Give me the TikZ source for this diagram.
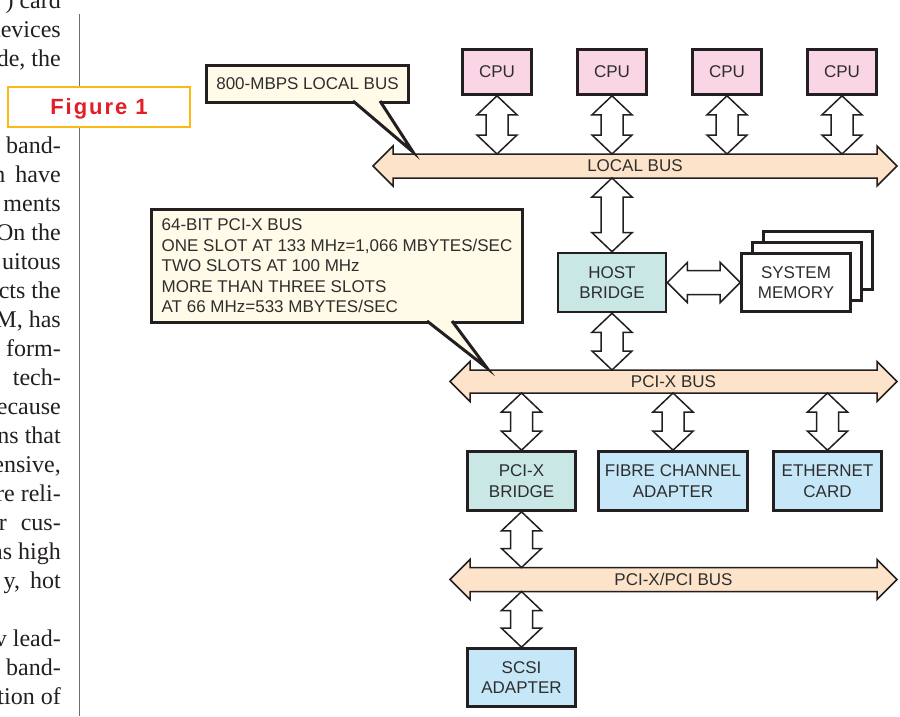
\documentclass[tikz,border=0pt]{standalone}
\usepackage{fontspec}
\usetikzlibrary{calc,backgrounds}
\newfontfamily\diagfont{Liberation Sans}
\newfontfamily\bodyfont{Liberation Serif}
\newfontfamily\figfont[LetterSpace=9]{Liberation Sans}

\definecolor{inkblack}{HTML}{231F20}
\definecolor{textgray}{HTML}{2E2E2E}
\definecolor{cpupink}{HTML}{F9D5E6}
\definecolor{busorange}{HTML}{FDE3C9}
\definecolor{bridgeteal}{HTML}{C9E8E5}
\definecolor{adapterblue}{HTML}{C6E7F7}
\definecolor{notecream}{HTML}{FFFBE8}
\definecolor{figorange}{HTML}{FDB913}
\definecolor{figred}{HTML}{E31E24}
\definecolor{rulegray}{HTML}{6D6E71}

\tikzset{
  box/.style={draw=inkblack, line width=2.6pt, text=textgray, align=center,
    font=\diagfont\fontsize{17}{20.5}\selectfont, inner sep=2pt},
  cpubox/.style={box, fill=cpupink, minimum width=69pt, minimum height=45pt},
  bridgebox/.style={box, fill=bridgeteal, minimum width=108pt, minimum height=59pt},
  adapterbox/.style={box, fill=adapterblue, minimum width=108pt, minimum height=59pt},
  membox/.style={box, fill=white, minimum width=109pt, minimum height=58pt},
  bus/.style={inner sep=0pt, outer sep=0pt, minimum height=24pt, text=textgray,
    font=\diagfont\fontsize{17}{20.5}\selectfont},
  busline/.style={draw=inkblack, line width=1.5pt, fill=busorange, line join=miter},
  linkarrow/.style={draw=inkblack, line width=1.5pt, fill=white, line join=miter},
  notebox/.style={draw=inkblack, line width=3pt, fill=notecream, text=textgray, align=left,
    font=\diagfont\fontsize{17}{20.5}\selectfont, inner sep=0pt},
  noteline/.style={draw=inkblack, line width=3pt, line join=miter},
  bodyline/.style={anchor=base east, inner sep=0pt, text=inkblack,
    font=\bodyfont\fontsize{24}{29}\selectfont},
  figbox/.style={draw=figorange, line width=2.2pt, fill=white, text=figred,
    minimum width=182pt, minimum height=40pt, text height=15.8pt, text depth=0pt,
    font=\figfont\bfseries\fontsize{22}{26}\selectfont}
}

% bus drawn behind its label
\newcommand{\busshape}[1]{%
  \begin{pgfonlayer}{background}
  \draw[busline] (#1.west) -- ([shift={(20pt,20pt)}]#1.west) -- ([xshift=20pt]#1.north west)
    -- ([xshift=-20pt]#1.north east) -- ([shift={(-20pt,20pt)}]#1.east) -- (#1.east)
    -- ([shift={(-20pt,-20pt)}]#1.east) -- ([xshift=-20pt]#1.south east)
    -- ([xshift=20pt]#1.south west) -- ([shift={(20pt,-20pt)}]#1.west) -- cycle;
  \end{pgfonlayer}}
% vertical two-way link: top point, bottom point
\newcommand{\vlink}[2]{%
  \draw[linkarrow] let \p1=(#1), \p2=(#2) in
    (\x1,\y1) -- (\x1+20pt,\y1-19pt) -- (\x1+11pt,\y1-19pt) -- (\x1+11pt,\y2+19pt)
    -- (\x1+20pt,\y2+19pt) -- (\x1,\y2) -- (\x1-20pt,\y2+19pt) -- (\x1-11pt,\y2+19pt)
    -- (\x1-11pt,\y1-19pt) -- (\x1-20pt,\y1-19pt) -- cycle;}
% horizontal two-way link: left point, right point
\newcommand{\hlink}[2]{%
  \draw[linkarrow] let \p1=(#1), \p2=(#2) in
    (\x1,\y1) -- (\x1+20pt,\y1+20pt) -- (\x1+20pt,\y1+12pt) -- (\x2-20pt,\y1+12pt)
    -- (\x2-20pt,\y1+20pt) -- (\x2,\y1) -- (\x2-20pt,\y1-20pt) -- (\x2-20pt,\y1-12pt)
    -- (\x1+20pt,\y1-12pt) -- (\x1+20pt,\y1-20pt) -- cycle;}
% pointer of a note box
\newcommand{\notepointer}[3]{%
  \fill[notecream] (#1) -- (#3) -- (#2) -- cycle;
  \draw[noteline] (#1) -- (#3) -- (#2);}

\begin{document}
\begin{tikzpicture}[x=1pt, y=-1pt]
  \useasboundingbox (0,0) rectangle (900,716);

  % text column of the page
  \foreach \i/\txt in {0/{) card}, 1/{devices}, 2/{de, the}, 5/{band-}, 6/{n\hskip 10pt have},
      7/{ments}, 8/{On the}, 9/{uitous}, 10/{cts the}, 11/{M, has}, 12/{form-},
      13/{tech-}, 14/{ecause}, 15/{ns that}, 16/{ensive,}, 17/{re reli-},
      18/{r\hskip 14pt cus-}, 19/{as high}, 20/{y,\hskip 10pt hot}, 22/{v lead-},
      23/{band-}, 24/{tion of}}{
    \node[bodyline] (body\i) at (61,{8+29*\i}) {\txt};
  }
  \draw[rulegray, line width=1pt] (79,14) -- (79,716);
  \node[figbox] (fig) at (99,107) {Figure 1};

  % processors and local bus
  \foreach \k/\x in {1/497, 2/612, 3/727, 4/842}{
    \node[cpubox] (cpu\k) at (\x,72) {CPU};
  }
  \node[bus, minimum width=524pt] (lbus) at (635,166) {LOCAL BUS};
  \busshape{lbus}
  \foreach \k in {1,...,4}{
    \vlink{cpu\k.south}{cpu\k.south |- lbus.north}
  }

  % host bridge and memory
  \node[bridgebox] (host) at (612,282.5) {HOST\\BRIDGE};
  \node[membox] (mem3) at (818,260.5) {};
  \node[membox] (mem2) at (807,271.5) {};
  \node[membox] (mem1) at (796,282.5) {SYSTEM\\MEMORY};
  \vlink{host.north |- lbus.south}{host.north}
  \hlink{host.east}{mem1.west}

  % PCI-X bus
  \node[bus, minimum width=447pt, minimum height=23pt] (pcix) at (673.5,381.5) {PCI-X BUS};
  \busshape{pcix}
  \vlink{host.south}{host.south |- pcix.north}

  \node[bridgebox] (pxb) at (521.5,481) {PCI-X\\BRIDGE};
  \node[adapterbox, minimum width=149pt] (fc) at (673,481) {FIBRE CHANNEL\\ADAPTER};
  \node[adapterbox] (eth) at (827.5,481) {ETHERNET\\CARD};
  \foreach \b in {pxb, fc, eth}{
    \vlink{\b.north |- pcix.south}{\b.north}
  }

  % PCI-X/PCI bus
  \node[bus, minimum width=447pt] (pcibus) at (673.5,579.5) {PCI-X/PCI BUS};
  \busshape{pcibus}
  \vlink{pxb.south}{pxb.south |- pcibus.north}
  \node[adapterbox, minimum height=58pt] (scsi) at (521.5,677.5) {SCSI\\ADAPTER};
  \vlink{scsi.north |- pcibus.south}{scsi.north}

  % notes
  \node[notebox, minimum width=202pt, minimum height=37pt] (note1) at (307.5,84) {800-MBPS LOCAL BUS};
  \coordinate (note1a) at (353,101);
  \coordinate (note1b) at (380,101);
  \coordinate (note1tip) at (413,152);
  \notepointer{note1a}{note1b}{note1tip}

  \node[notebox, minimum width=371pt, minimum height=113pt] (note2) at (337,266)
    {64-BIT PCI-X BUS\\ONE SLOT AT 133 MHz=1,066 MBYTES/SEC\\TWO SLOTS AT 100 MHz\\
     MORE THAN THREE SLOTS\\AT 66 MHz=533 MBYTES/SEC};
  \coordinate (note2a) at (427,321);
  \coordinate (note2b) at (452,321);
  \coordinate (note2tip) at (487,368);
  \notepointer{note2a}{note2b}{note2tip}
\end{tikzpicture}
\end{document}
